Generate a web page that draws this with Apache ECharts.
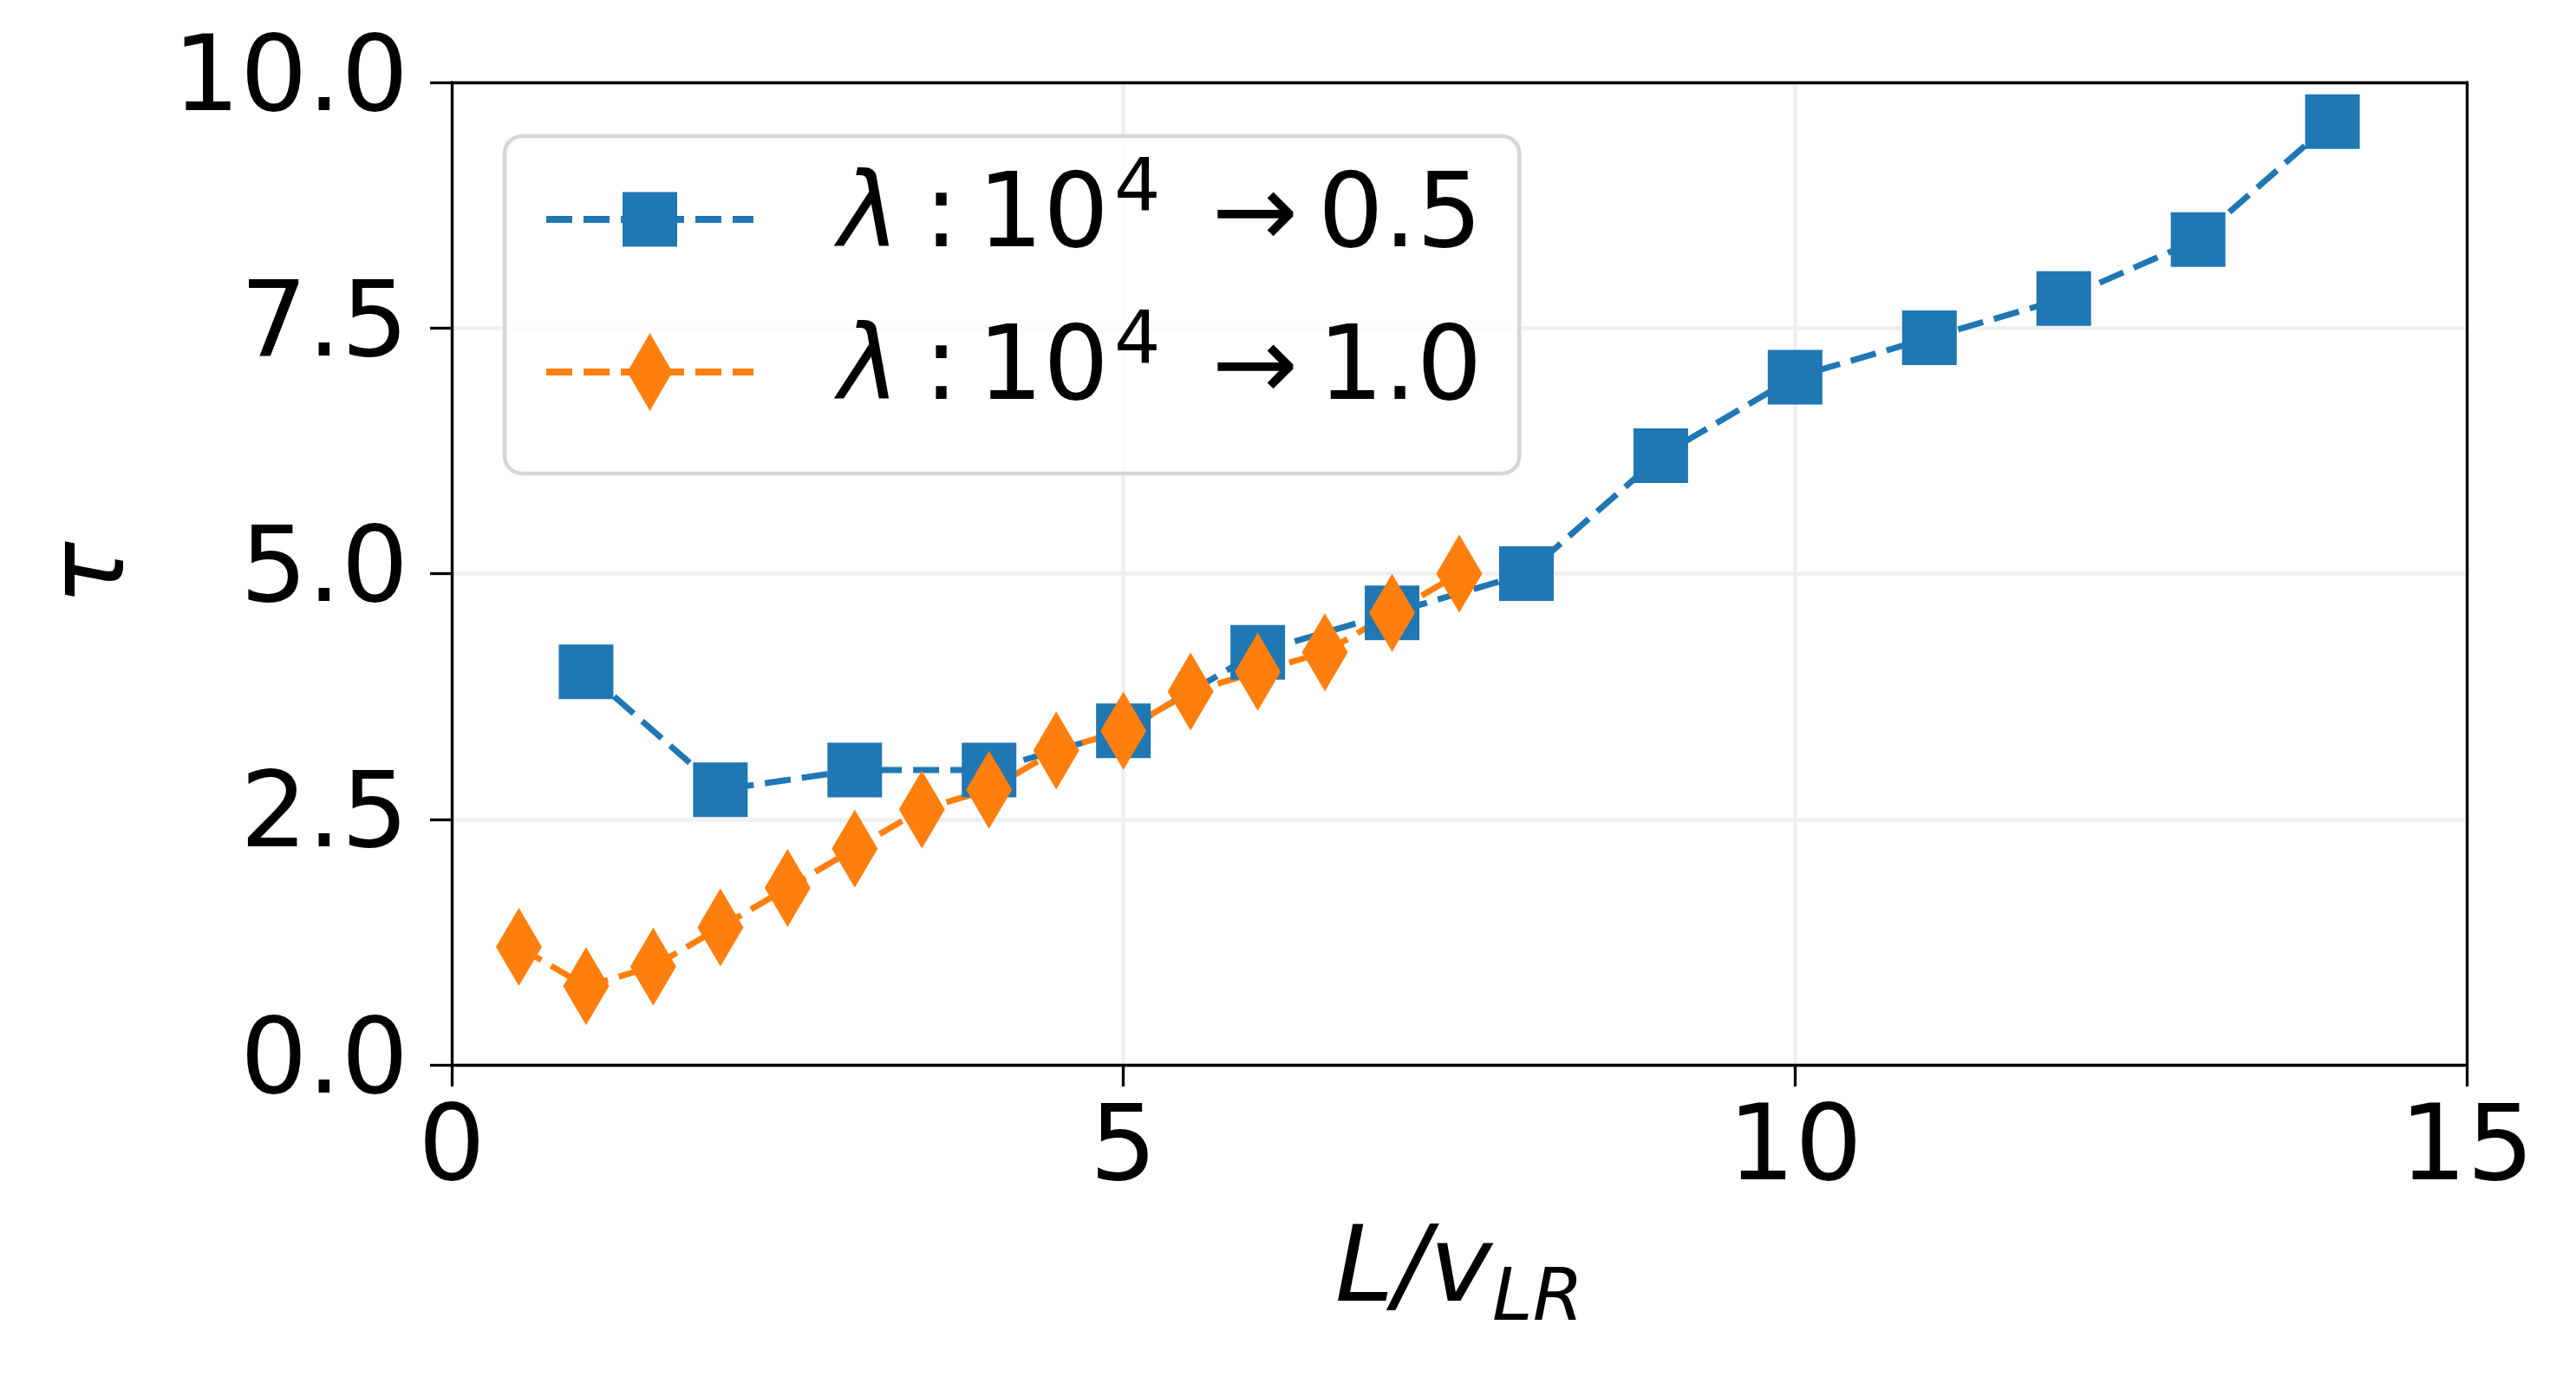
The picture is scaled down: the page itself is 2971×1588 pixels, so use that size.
<!DOCTYPE html>
<html>
<head>
<meta charset="utf-8">
<script src="https://cdn.jsdelivr.net/npm/echarts@6/dist/echarts.min.js"></script>
<style>
  html, body { margin: 0; padding: 0; background: #fff; }
  #chart { width: 2971px; height: 1588px; }
</style>
</head>
<body>
<div id="chart"></div>
<script>
// values
const blueX = [1, 2, 3, 4, 5, 6, 7, 8, 9, 10, 11, 12, 13, 14];
const blueY = [4.0, 2.8, 3.0, 3.0, 3.4, 4.2, 4.6, 5.0, 6.2, 7.0, 7.4, 7.8, 8.4, 9.6];
const orangeX = [0.5, 1, 1.5, 2, 2.5, 3, 3.5, 4, 4.5, 5, 5.5, 6, 6.5, 7, 7.5];
const orangeY = [1.2, 0.8, 1.0, 1.4, 1.8, 2.2, 2.6, 2.8, 3.2, 3.4, 3.8, 4.0, 4.2, 4.6, 5.0];
const targets = ['0.5', '1.0'];
const seriesNames = targets.map(t => 'λ: 10^4 → ' + t);
const xTicks = { min: 0, max: 15, interval: 5 };
const yTicks = { min: 0, max: 10, interval: 2.5 };

const FONT = 'DejaVu Sans';
const BLUE = '#1f77b4';
const ORANGE = '#ff7f0e';

// legend handle: dashed line with the marker in the middle
function handlePath(marker) {
    const w = 239, dash = 30, gap = 13, lw = 8;
    const h = marker === 'rect' ? 63 : 90;
    const cy = h / 2, cx = w / 2;
    let d = '';
    for (let x = 0; x < w; x += dash + gap) {
        const x2 = Math.min(x + dash, w);
        d += `M${x} ${cy - lw / 2}H${x2}V${cy + lw / 2}H${x}Z`;
    }
    if (marker === 'rect') {
        d += `M${cx - 31.5} 0H${cx + 31.5}V63H${cx - 31.5}Z`;
    } else {
        d += `M${cx} 0L${cx + 26} 45L${cx} 90L${cx - 26} 45Z`;
    }
    return 'path://' + d;
}

function pairs(xs, ys) {
    return xs.map((x, i) => [x, ys[i]]);
}

const dashed = { width: 7, type: [30, 13], cap: 'butt' };
const spine = { show: true, onZero: false, lineStyle: { color: '#000', width: 3.3 } };
const tick = { show: true, inside: false, length: 25, lineStyle: { color: '#000', width: 3.3 } };
const grid = { show: true, lineStyle: { color: '#efefef', width: 4.5 } };

let option = {
    backgroundColor: '#fff',
    animation: false,
    grid: {
        left: 521, right: 126, top: 95, bottom: 360,
        containLabel: false
    },
    legend: {
        orient: 'vertical',
        left: 582,
        top: 157,
        itemWidth: 239,
        itemHeight: 90,
        itemGap: 26,
        padding: [21, 43, 42, 48],
        backgroundColor: 'rgba(255,255,255,0.8)',
        borderColor: '#d6d6d6',
        borderWidth: 4.5,
        borderRadius: 20,
        itemStyle: { borderWidth: 0 },
        data: [
            { name: seriesNames[0], icon: handlePath('rect'), itemStyle: { color: BLUE } },
            { name: seriesNames[1], icon: handlePath('diamond'), itemStyle: { color: ORANGE } }
        ],
        formatter: name => {
            const t = targets[seriesNames.indexOf(name)];
            return `{l|λ}{c|:}{n|10}{s|4}{a|→}{n|${t}}`;
        },
        textStyle: {
            color: '#000',
            fontFamily: FONT,
            rich: {
                l: { fontFamily: FONT, fontStyle: 'italic', fontSize: 119, lineHeight: 120, padding: [0, 0, 0, 93] },
                c: { fontFamily: FONT, fontSize: 119, lineHeight: 120, padding: [0, 22, 0, 28] },
                n: { fontFamily: FONT, fontSize: 119, lineHeight: 120 },
                s: { fontFamily: FONT, fontSize: 84, lineHeight: 84, padding: [0, 0, 66, 6] },
                a: { fontFamily: FONT, fontSize: 119, lineHeight: 120, padding: [0, 23, 0, 59] }
            }
        }
    },
    xAxis: [
        {
            type: 'value',
            min: xTicks.min, max: xTicks.max, interval: xTicks.interval,
            name: '{i|L/v}{sub|LR}',
            nameLocation: 'middle',
            nameGap: 170,
            nameTextStyle: {
                color: '#000',
                rich: {
                    i: { fontFamily: FONT, fontStyle: 'italic', fontSize: 122, lineHeight: 122 },
                    sub: { fontFamily: FONT, fontStyle: 'italic', fontSize: 84, lineHeight: 84, padding: [64, 0, 0, 0] }
                }
            },
            axisLine: spine,
            axisTick: tick,
            axisLabel: { color: '#000', fontFamily: FONT, fontSize: 122, lineHeight: 122, margin: 39 },
            splitLine: grid
        },
        {
            // top spine
            type: 'value', position: 'top',
            min: xTicks.min, max: xTicks.max, interval: xTicks.interval,
            axisLine: spine, axisTick: { show: false }, axisLabel: { show: false }, splitLine: { show: false }
        }
    ],
    yAxis: [
        {
            type: 'value',
            min: yTicks.min, max: yTicks.max, interval: yTicks.interval,
            name: 'τ',
            nameLocation: 'middle',
            nameRotate: 90,
            nameGap: 350,
            nameTextStyle: { color: '#000', fontFamily: FONT, fontStyle: 'italic', fontSize: 122, lineHeight: 122 },
            axisLine: spine,
            axisTick: tick,
            axisLabel: {
                color: '#000', fontFamily: FONT, fontSize: 122, lineHeight: 122, margin: 50,
                formatter: v => v.toFixed(1)
            },
            splitLine: grid
        },
        {
            // right spine
            type: 'value', position: 'right',
            min: yTicks.min, max: yTicks.max, interval: yTicks.interval,
            axisLine: spine, axisTick: { show: false }, axisLabel: { show: false }, splitLine: { show: false }
        }
    ],
    series: [
        {
            name: seriesNames[0],
            type: 'line',
            data: pairs(blueX, blueY),
            symbol: 'rect',
            symbolSize: 63,
            showAllSymbol: true,
            itemStyle: { color: BLUE },
            lineStyle: Object.assign({ color: BLUE }, dashed),
            emphasis: { disabled: true }
        },
        {
            name: seriesNames[1],
            type: 'line',
            data: pairs(orangeX, orangeY),
            symbol: 'diamond',
            symbolSize: [53, 90],
            showAllSymbol: true,
            itemStyle: { color: ORANGE },
            lineStyle: Object.assign({ color: ORANGE }, dashed),
            emphasis: { disabled: true }
        }
    ]
};

let myChart = echarts.init(document.getElementById('chart'));
myChart.setOption(option);
</script>
</body>
</html>
